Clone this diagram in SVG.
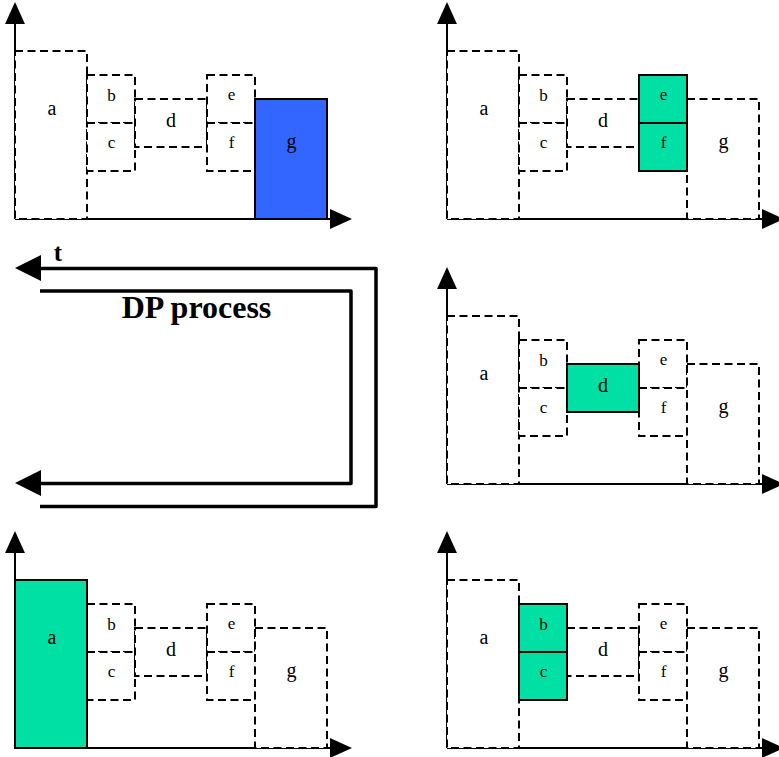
<svg xmlns="http://www.w3.org/2000/svg" width="779" height="757" viewBox="0 0 779 757">
<style>
.bg{fill:#fff}
.ax{stroke:#000;stroke-width:2;fill:none;marker-end:url(#ah)}
.dash{fill:#fff;stroke:#000;stroke-width:2;stroke-dasharray:8 4.5}
.grn{fill:#00E0A4;stroke:#000;stroke-width:2}
.blu{fill:#3366FF;stroke:#000;stroke-width:2}
.lb{font-family:"Liberation Serif","Times New Roman",serif;text-anchor:middle;fill:#000}
.big{font-size:20px}
.sm{font-size:17px}
.flow{fill:none;stroke:#000;stroke-width:3.5;stroke-linejoin:round}
.head{fill:#000}
.title{font-family:"Liberation Serif","Times New Roman",serif;font-weight:bold;fill:#000}
</style>
<defs>
<marker id="ah" markerUnits="userSpaceOnUse" markerWidth="22" markerHeight="20" viewBox="0 0 21 19" refX="0" refY="9.5" orient="auto">
<path d="M0,0 L21,9.5 L0,19 z" fill="#000"/>
</marker>
</defs>
<rect class="bg" x="0" y="0" width="779" height="757"/>

<!-- Panel 1: top-left, g highlighted blue -->
<g id="panel1">
<g id="p1-axes"><line class="ax" x1="15" y1="219" x2="15" y2="24"/><line class="ax" x1="15" y1="219" x2="330" y2="219"/></g>
<g id="p1-a"><rect class="dash" x="15" y="51" width="72" height="168"/><text class="lb big" x="52" y="115">a</text></g>
<g id="p1-b"><rect class="dash" x="87" y="75" width="48" height="48"/><text class="lb sm" x="111.5" y="100.5">b</text></g>
<g id="p1-c"><rect class="dash" x="87" y="123" width="48" height="48"/><text class="lb sm" x="111.5" y="148">c</text></g>
<g id="p1-d"><rect class="dash" x="135" y="99" width="72" height="48"/><text class="lb big" x="171" y="127">d</text></g>
<g id="p1-e"><rect class="dash" x="207" y="75" width="48" height="48"/><text class="lb sm" x="231.5" y="100">e</text></g>
<g id="p1-f"><rect class="dash" x="207" y="123" width="48" height="48"/><text class="lb sm" x="231.5" y="148">f</text></g>
<g id="p1-g"><rect class="blu" x="255" y="99" width="72" height="120"/><text class="lb big" x="291.5" y="148">g</text></g>
</g>

<!-- Panel 2: top-right, e and f highlighted -->
<g id="panel2" transform="translate(432,0)">
<g id="p2-axes"><line class="ax" x1="15" y1="219" x2="15" y2="24"/><line class="ax" x1="15" y1="219" x2="330" y2="219"/></g>
<g id="p2-a"><rect class="dash" x="15" y="51" width="72" height="168"/><text class="lb big" x="52" y="115">a</text></g>
<g id="p2-b"><rect class="dash" x="87" y="75" width="48" height="48"/><text class="lb sm" x="111.5" y="100.5">b</text></g>
<g id="p2-c"><rect class="dash" x="87" y="123" width="48" height="48"/><text class="lb sm" x="111.5" y="148">c</text></g>
<g id="p2-d"><rect class="dash" x="135" y="99" width="72" height="48"/><text class="lb big" x="171" y="127">d</text></g>
<g id="p2-g"><rect class="dash" x="255" y="99" width="72" height="120"/><text class="lb big" x="291.5" y="148">g</text></g>
<g id="p2-e"><rect class="grn" x="207" y="75" width="48" height="48"/><text class="lb sm" x="231.5" y="100">e</text></g>
<g id="p2-f"><rect class="grn" x="207" y="123" width="48" height="48"/><text class="lb sm" x="231.5" y="148">f</text></g>
</g>

<!-- Panel 3: middle-right, d highlighted -->
<g id="panel3" transform="translate(432,265)">
<g id="p3-axes"><line class="ax" x1="15" y1="219" x2="15" y2="24"/><line class="ax" x1="15" y1="219" x2="330" y2="219"/></g>
<g id="p3-a"><rect class="dash" x="15" y="51" width="72" height="168"/><text class="lb big" x="52" y="115">a</text></g>
<g id="p3-b"><rect class="dash" x="87" y="75" width="48" height="48"/><text class="lb sm" x="111.5" y="100.5">b</text></g>
<g id="p3-c"><rect class="dash" x="87" y="123" width="48" height="48"/><text class="lb sm" x="111.5" y="148">c</text></g>
<g id="p3-e"><rect class="dash" x="207" y="75" width="48" height="48"/><text class="lb sm" x="231.5" y="100">e</text></g>
<g id="p3-f"><rect class="dash" x="207" y="123" width="48" height="48"/><text class="lb sm" x="231.5" y="148">f</text></g>
<g id="p3-g"><rect class="dash" x="255" y="99" width="72" height="120"/><text class="lb big" x="291.5" y="148">g</text></g>
<g id="p3-d"><rect class="grn" x="135" y="99" width="72" height="48"/><text class="lb big" x="171" y="127">d</text></g>
</g>

<!-- Panel 4: bottom-right, b and c highlighted -->
<g id="panel4" transform="translate(432,529)">
<g id="p4-axes"><line class="ax" x1="15" y1="219" x2="15" y2="24"/><line class="ax" x1="15" y1="219" x2="330" y2="219"/></g>
<g id="p4-a"><rect class="dash" x="15" y="51" width="72" height="168"/><text class="lb big" x="52" y="115">a</text></g>
<g id="p4-d"><rect class="dash" x="135" y="99" width="72" height="48"/><text class="lb big" x="171" y="127">d</text></g>
<g id="p4-e"><rect class="dash" x="207" y="75" width="48" height="48"/><text class="lb sm" x="231.5" y="100">e</text></g>
<g id="p4-f"><rect class="dash" x="207" y="123" width="48" height="48"/><text class="lb sm" x="231.5" y="148">f</text></g>
<g id="p4-g"><rect class="dash" x="255" y="99" width="72" height="120"/><text class="lb big" x="291.5" y="148">g</text></g>
<g id="p4-b"><rect class="grn" x="87" y="75" width="48" height="48"/><text class="lb sm" x="111.5" y="100.5">b</text></g>
<g id="p4-c"><rect class="grn" x="87" y="123" width="48" height="48"/><text class="lb sm" x="111.5" y="148">c</text></g>
</g>

<!-- Panel 5: bottom-left, a highlighted -->
<g id="panel5" transform="translate(0,529)">
<g id="p5-axes"><line class="ax" x1="15" y1="219" x2="15" y2="24"/><line class="ax" x1="15" y1="219" x2="330" y2="219"/></g>
<g id="p5-b"><rect class="dash" x="87" y="75" width="48" height="48"/><text class="lb sm" x="111.5" y="100.5">b</text></g>
<g id="p5-c"><rect class="dash" x="87" y="123" width="48" height="48"/><text class="lb sm" x="111.5" y="148">c</text></g>
<g id="p5-d"><rect class="dash" x="135" y="99" width="72" height="48"/><text class="lb big" x="171" y="127">d</text></g>
<g id="p5-e"><rect class="dash" x="207" y="75" width="48" height="48"/><text class="lb sm" x="231.5" y="100">e</text></g>
<g id="p5-f"><rect class="dash" x="207" y="123" width="48" height="48"/><text class="lb sm" x="231.5" y="148">f</text></g>
<g id="p5-g"><rect class="dash" x="255" y="99" width="72" height="120"/><text class="lb big" x="291.5" y="148">g</text></g>
<g id="p5-a"><rect class="grn" x="15" y="51" width="72" height="168"/><text class="lb big" x="52" y="115">a</text></g>
</g>

<!-- DP process connectors -->
<g id="connectors">
<polyline class="flow" points="39,268.5 376,268.5 376,506.5 40,506.5"/>
<polygon class="head" points="15,268 41,255 41,281"/>
<polyline class="flow" points="40,291 351,291 351,483.5 39,483.5"/>
<polygon class="head" points="15,483 41,470 41,496"/>
</g>
<g id="label-t"><text class="title" x="58" y="261" font-size="25" text-anchor="middle">t</text></g>
<g id="label-dp"><text class="title" x="196.5" y="318" font-size="32" text-anchor="middle">DP process</text></g>
</svg>
